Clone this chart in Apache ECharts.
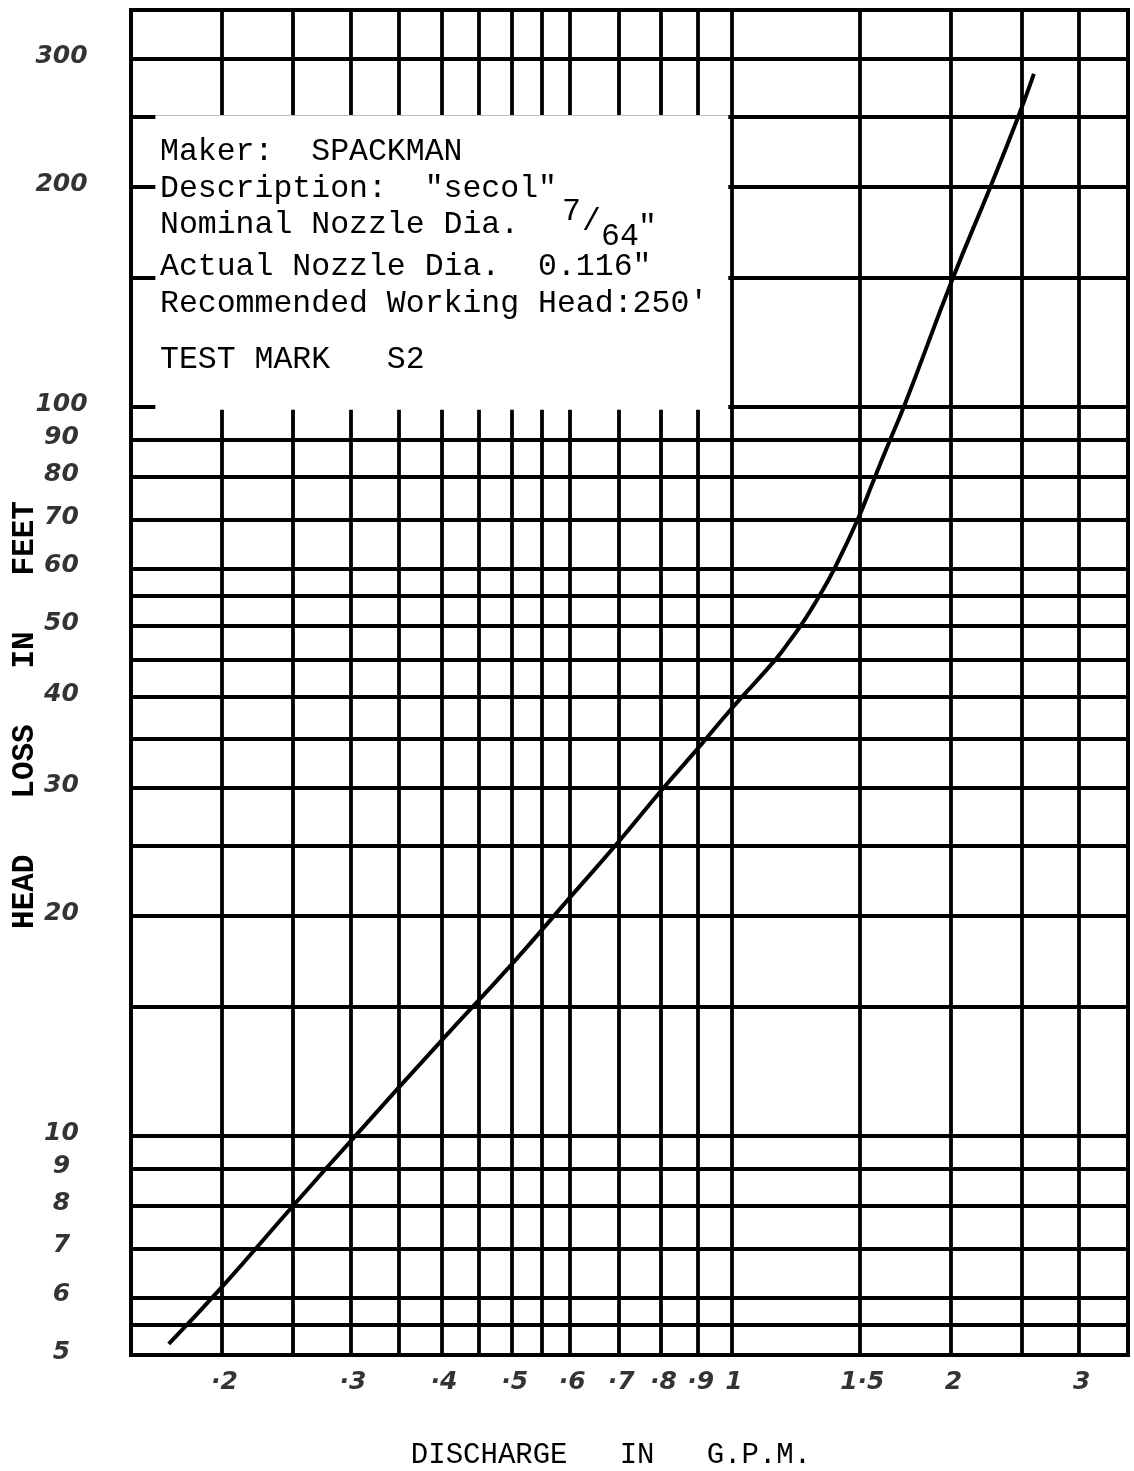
<!DOCTYPE html>
<html>
<head>
<meta charset="utf-8">
<script src="https://cdn.jsdelivr.net/npm/echarts@6/dist/echarts.min.js"></script>
<style>
html,body{margin:0;padding:0;background:#fff;}
#chart{width:1134px;height:1471px;}
</style>
</head>
<body>
<div id="chart"></div>
<script>
// ---- data (log-log chart) ----
const discharge = [0.169, 0.200, 0.250, 0.305, 0.400, 0.500, 0.600, 0.700, 0.800, 0.900, 1.000, 1.150, 1.200, 1.250, 1.285, 1.320, 1.385, 1.490, 1.565, 1.645, 1.730, 2.010, 2.265, 2.475, 2.600];
const headLoss  = [5.18, 6.2, 8.0, 10.0, 13.5, 17.2, 21.2, 25.3, 29.7, 34.0, 38.5, 45.0, 47.6, 50.4, 52.6, 55.0, 60.0, 70.0, 79.0, 89.3, 100.8, 149.5, 200, 250, 286];

const xGridValues = [0.2, 0.25, 0.3, 0.35, 0.4, 0.45, 0.5, 0.55, 0.6, 0.7, 0.8, 0.9, 1, 1.5, 2, 2.5, 3];
const yGridValues = [5.5, 6, 7, 8, 9, 10, 15, 20, 25, 30, 35, 40, 45, 50, 55, 60, 70, 80, 90, 100, 150, 200, 250, 300];

const xTickValues = [0.2, 0.3, 0.4, 0.5, 0.6, 0.7, 0.8, 0.9, 1, 1.5, 2, 3];
const xTickLabels = ['·2', '·3', '·4', '·5', '·6', '·7', '·8', '·9', '1', '1·5', '2', '3'];
const yTickValues = [5, 6, 7, 8, 9, 10, 20, 30, 40, 50, 60, 70, 80, 90, 100, 200, 300];
const yTickLabels = ['5', '6', '7', '8', '9', '10', '20', '30', '40', '50', '60', '70', '80', '90', '100', '200', '300'];

const xRange = [0.15, 3.5];
const yRange = [5, 350];

const infoLines = [
  'Maker:  SPACKMAN',
  'Description:  "secol"',
  'Nominal Nozzle Dia.',
  'Actual Nozzle Dia.  0.116"',
  'Recommended Working Head:250\'',
  'TEST MARK   S2'
];
const xTitle = 'DISCHARGE   IN   G.P.M.';
const yTitle = 'HEAD   LOSS   IN   FEET';

// ---- chart ----
const chart = echarts.init(document.getElementById('chart'), null, {renderer: 'canvas'});
const monoFont = '"Liberation Mono", "DejaVu Sans Mono", monospace';
const handFont = '"DejaVu Sans", sans-serif';
const infoY = [152, 189, 225, 267, 304, 360];

const graphics = infoLines.map((t, i) => ({
  type: 'text', x: 160, y: infoY[i], z: 100, silent: true,
  style: {text: t, fontSize: 31.5, fontFamily: monoFont, fill: '#000', align: 'left', verticalAlign: 'middle'}
}));
graphics.push(
  {type: 'text', x: 562, y: 212, z: 100, silent: true, style: {text: '7', fontSize: 31.5, fontFamily: monoFont, fill: '#000', align: 'left', verticalAlign: 'middle'}},
  {type: 'text', x: 582, y: 222, z: 100, silent: true, style: {text: '/', fontSize: 31.5, fontFamily: monoFont, fill: '#000', align: 'left', verticalAlign: 'middle'}},
  {type: 'text', x: 601, y: 237, z: 100, silent: true, style: {text: '64', fontSize: 31.5, fontFamily: monoFont, fill: '#000', align: 'left', verticalAlign: 'middle'}},
  {type: 'text', x: 638, y: 228, z: 100, silent: true, style: {text: '"', fontSize: 31.5, fontFamily: monoFont, fill: '#000', align: 'left', verticalAlign: 'middle'}},
  {type: 'text', x: 611, y: 1455, z: 100, silent: true, style: {text: xTitle, fontSize: 29, fontFamily: monoFont, fill: '#000', align: 'center', verticalAlign: 'middle'}},
  {type: 'text', x: 25, y: 715, rotation: Math.PI / 2, z: 100, silent: true, style: {text: yTitle, fontSize: 31, fontWeight: 'bold', fontFamily: monoFont, fill: '#000', align: 'center', verticalAlign: 'middle'}}
);

const hiddenAxis = {
  axisLine: {show: false}, axisTick: {show: false}, axisLabel: {show: false}, splitLine: {show: false}
};

const option = {
  animation: false,
  backgroundColor: '#fff',
  grid: {left: 131, right: 6, top: 10, bottom: 116, show: true, borderColor: '#000', borderWidth: 4, backgroundColor: '#fff'},
  xAxis: Object.assign({type: 'log', logBase: 10, min: xRange[0], max: xRange[1]}, hiddenAxis),
  yAxis: Object.assign({type: 'log', logBase: 10, min: yRange[0], max: yRange[1]}, hiddenAxis),
  graphic: graphics,
  series: [
    {
      name: 'gridHost', type: 'line', z: 1, silent: true, symbol: 'none',
      data: [[1, 10]], lineStyle: {opacity: 0},
      markLine: {
        z: 1, silent: true, symbol: ['none', 'none'], animation: false,
        label: {show: false}, emphasis: {disabled: true},
        lineStyle: {color: '#000', width: 3.8, type: 'solid'},
        data: xGridValues.map(v => ({xAxis: v})).concat(yGridValues.map(v => ({yAxis: v})))
      }
    },
    {
      name: 'boxHost', type: 'line', z: 3, silent: true, symbol: 'none',
      data: [[1, 10]], lineStyle: {opacity: 0},
      markArea: {
        z: 3, silent: true, label: {show: false}, emphasis: {disabled: true},
        itemStyle: {color: '#fff', opacity: 1},
        data: [[{xAxis: 0.162, yAxis: 251}, {xAxis: 0.99, yAxis: 99}]]
      }
    },
    {
      name: 'Head loss', type: 'line', z: 4, silent: true,
      data: discharge.map((x, i) => [x, headLoss[i]]),
      symbol: 'none', showSymbol: false, smooth: 0.5,
      lineStyle: {color: '#000', width: 4}
    },
    {
      name: 'yLabels', type: 'scatter', z: 5, silent: true, clip: false,
      symbolSize: 1, itemStyle: {color: 'rgba(0,0,0,0)'},
      data: yTickValues.map(v => [xRange[0], v]),
      label: {
        show: true, position: [-69, -2], align: 'center', verticalAlign: 'middle',
        formatter: p => yTickLabels[p.dataIndex],
        fontSize: 25, fontStyle: 'italic', fontWeight: 'bold', fontFamily: handFont, color: '#000'
      },
      emphasis: {disabled: true}
    },
    {
      name: 'xLabels', type: 'scatter', z: 5, silent: true, clip: false,
      symbolSize: 1, itemStyle: {color: 'rgba(0,0,0,0)'},
      data: xTickValues.map(v => [v, yRange[0]]),
      label: {
        show: true, position: [3, 28], align: 'center', verticalAlign: 'middle',
        formatter: p => xTickLabels[p.dataIndex],
        fontSize: 25, fontStyle: 'italic', fontWeight: 'bold', fontFamily: handFont, color: '#000'
      },
      emphasis: {disabled: true}
    }
  ]
};
chart.setOption(option);
</script>
</body>
</html>
